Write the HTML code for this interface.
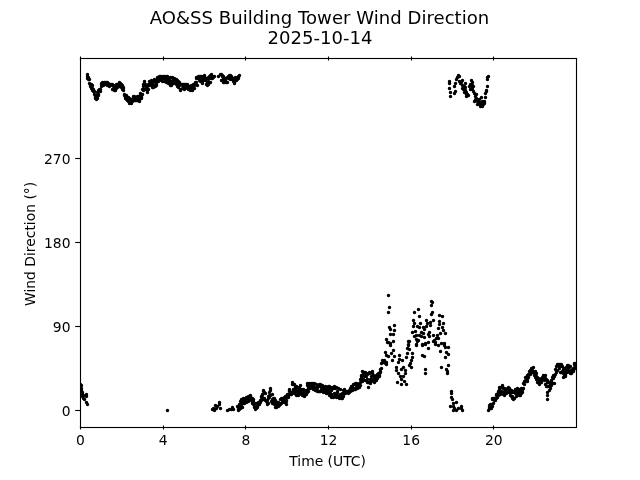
<!DOCTYPE html>
<html><head><meta charset="utf-8"><title>AO&amp;SS Building Tower Wind Direction</title>
<style>
html,body{margin:0;padding:0;background:#fff;}
svg{display:block;font-family:"DejaVu Sans","Liberation Sans",sans-serif;fill:#000;}
</style></head><body>
<svg width="640" height="480" viewBox="0 0 640 480">
<rect width="640" height="480" fill="#fff"/>
<g font-size="18.06px" text-anchor="middle">
<text x="319.5" y="24" letter-spacing="0.03">AO&amp;SS Building Tower Wind Direction</text>
<text x="320" y="44">2025-10-14</text>
</g>
<g font-size="13.89px">
<text x="80.50" y="445" text-anchor="middle">0</text><text x="163.17" y="445" text-anchor="middle">4</text><text x="245.83" y="445" text-anchor="middle">8</text><text x="328.50" y="445" text-anchor="middle">12</text><text x="411.17" y="445" text-anchor="middle">16</text><text x="493.83" y="445" text-anchor="middle">20</text>
<text x="70.5" y="415.70" text-anchor="end">0</text><text x="70.5" y="331.70" text-anchor="end">90</text><text x="70.5" y="247.70" text-anchor="end">180</text><text x="70.5" y="163.70" text-anchor="end">270</text>
<text x="327.6" y="466" text-anchor="middle">Time (UTC)</text>
<text transform="translate(35,243.9) rotate(-90)" text-anchor="middle">Wind Direction (°)</text>
</g>
<clipPath id="ax"><rect x="80" y="57.6" width="496" height="369.6"/></clipPath>
<path clip-path="url(#ax)" d="M80.5 384.5h0M81.5 385.5h0M81.5 388.5h0M81.5 390.5h0M82.5 392.5h0M82.5 394.5h0M82.5 396.5h0M83.5 398.5h0M84.5 399.5h0M85.5 395.5h0M86.5 394.5h0M86.5 396.5h0M86.5 402.5h0M87.5 74.5h0M87.5 76.5h0M87.5 78.5h0M87.5 404.5h0M88.5 77.5h0M88.5 79.5h0M89.5 79.5h0M89.5 83.5h0M90.5 84.5h0M90.5 85.5h0M90.5 86.5h0M91.5 84.5h0M91.5 88.5h0M92.5 85.5h0M92.5 88.5h0M92.5 90.5h0M93.5 89.5h0M93.5 90.5h0M93.5 91.5h0M94.5 91.5h0M94.5 94.5h0M95.5 96.5h0M95.5 97.5h0M95.5 98.5h0M96.5 95.5h0M96.5 97.5h0M96.5 99.5h0M97.5 92.5h0M97.5 96.5h0M97.5 98.5h0M98.5 90.5h0M98.5 94.5h0M98.5 95.5h0M99.5 89.5h0M99.5 90.5h0M100.5 89.5h0M100.5 91.5h0M101.5 83.5h0M101.5 84.5h0M101.5 86.5h0M102.5 82.5h0M102.5 84.5h0M103.5 83.5h0M103.5 85.5h0M104.5 82.5h0M104.5 84.5h0M105.5 82.5h0M105.5 83.5h0M105.5 84.5h0M106.5 82.5h0M106.5 83.5h0M106.5 84.5h0M107.5 82.5h0M107.5 84.5h0M107.5 85.5h0M108.5 83.5h0M108.5 85.5h0M109.5 84.5h0M109.5 86.5h0M110.5 84.5h0M110.5 85.5h0M111.5 84.5h0M112.5 84.5h0M112.5 85.5h0M112.5 89.5h0M113.5 85.5h0M113.5 86.5h0M113.5 89.5h0M114.5 86.5h0M114.5 89.5h0M114.5 90.5h0M115.5 86.5h0M115.5 89.5h0M115.5 90.5h0M116.5 84.5h0M116.5 86.5h0M116.5 88.5h0M117.5 84.5h0M117.5 87.5h0M118.5 84.5h0M118.5 85.5h0M118.5 86.5h0M119.5 82.5h0M119.5 86.5h0M120.5 83.5h0M121.5 84.5h0M121.5 86.5h0M121.5 87.5h0M122.5 85.5h0M122.5 86.5h0M122.5 89.5h0M123.5 87.5h0M123.5 88.5h0M123.5 90.5h0M124.5 94.5h0M124.5 95.5h0M125.5 95.5h0M125.5 97.5h0M125.5 98.5h0M126.5 95.5h0M126.5 99.5h0M127.5 97.5h0M127.5 100.5h0M128.5 97.5h0M128.5 101.5h0M129.5 98.5h0M129.5 99.5h0M129.5 103.5h0M130.5 102.5h0M131.5 99.5h0M131.5 102.5h0M131.5 103.5h0M132.5 99.5h0M132.5 100.5h0M132.5 101.5h0M133.5 96.5h0M133.5 97.5h0M134.5 96.5h0M134.5 97.5h0M134.5 100.5h0M135.5 98.5h0M135.5 99.5h0M135.5 100.5h0M136.5 97.5h0M136.5 98.5h0M136.5 100.5h0M137.5 96.5h0M137.5 99.5h0M137.5 100.5h0M138.5 96.5h0M138.5 97.5h0M138.5 98.5h0M139.5 101.5h0M140.5 93.5h0M140.5 95.5h0M140.5 98.5h0M141.5 96.5h0M141.5 97.5h0M141.5 98.5h0M142.5 89.5h0M142.5 94.5h0M143.5 84.5h0M143.5 86.5h0M143.5 90.5h0M144.5 81.5h0M144.5 83.5h0M144.5 89.5h0M145.5 84.5h0M145.5 85.5h0M145.5 89.5h0M146.5 85.5h0M146.5 88.5h0M146.5 89.5h0M147.5 86.5h0M147.5 92.5h0M148.5 84.5h0M148.5 85.5h0M148.5 89.5h0M149.5 81.5h0M149.5 85.5h0M150.5 81.5h0M150.5 83.5h0M151.5 80.5h0M151.5 81.5h0M151.5 83.5h0M152.5 83.5h0M152.5 86.5h0M152.5 87.5h0M153.5 82.5h0M153.5 85.5h0M153.5 87.5h0M154.5 79.5h0M154.5 80.5h0M155.5 81.5h0M155.5 85.5h0M155.5 86.5h0M156.5 82.5h0M156.5 84.5h0M156.5 85.5h0M157.5 77.5h0M157.5 79.5h0M158.5 78.5h0M158.5 79.5h0M158.5 81.5h0M159.5 76.5h0M160.5 76.5h0M160.5 77.5h0M161.5 76.5h0M161.5 77.5h0M161.5 80.5h0M162.5 77.5h0M162.5 78.5h0M162.5 81.5h0M163.5 76.5h0M163.5 77.5h0M164.5 76.5h0M164.5 78.5h0M164.5 81.5h0M165.5 79.5h0M165.5 81.5h0M166.5 76.5h0M166.5 82.5h0M167.5 76.5h0M167.5 80.5h0M167.5 410.5h0M168.5 78.5h0M168.5 82.5h0M168.5 83.5h0M169.5 78.5h0M169.5 80.5h0M169.5 83.5h0M170.5 77.5h0M170.5 85.5h0M171.5 82.5h0M171.5 85.5h0M172.5 77.5h0M172.5 80.5h0M172.5 83.5h0M173.5 78.5h0M173.5 79.5h0M173.5 83.5h0M174.5 78.5h0M174.5 81.5h0M175.5 83.5h0M176.5 79.5h0M176.5 80.5h0M176.5 84.5h0M177.5 80.5h0M177.5 83.5h0M177.5 86.5h0M178.5 81.5h0M178.5 84.5h0M178.5 87.5h0M179.5 82.5h0M179.5 85.5h0M180.5 89.5h0M180.5 90.5h0M181.5 84.5h0M182.5 84.5h0M182.5 85.5h0M182.5 88.5h0M183.5 84.5h0M183.5 87.5h0M184.5 84.5h0M184.5 89.5h0M185.5 84.5h0M185.5 88.5h0M186.5 84.5h0M186.5 85.5h0M186.5 87.5h0M187.5 84.5h0M188.5 86.5h0M188.5 88.5h0M188.5 89.5h0M189.5 86.5h0M189.5 89.5h0M190.5 86.5h0M190.5 89.5h0M190.5 90.5h0M191.5 85.5h0M191.5 86.5h0M192.5 85.5h0M192.5 90.5h0M193.5 84.5h0M193.5 87.5h0M193.5 88.5h0M194.5 85.5h0M194.5 88.5h0M195.5 82.5h0M195.5 83.5h0M195.5 84.5h0M196.5 77.5h0M196.5 78.5h0M196.5 82.5h0M197.5 77.5h0M197.5 85.5h0M198.5 76.5h0M198.5 78.5h0M199.5 76.5h0M199.5 80.5h0M200.5 76.5h0M200.5 77.5h0M200.5 81.5h0M201.5 76.5h0M201.5 77.5h0M201.5 81.5h0M202.5 77.5h0M202.5 79.5h0M202.5 83.5h0M203.5 76.5h0M203.5 80.5h0M204.5 75.5h0M204.5 76.5h0M205.5 79.5h0M205.5 80.5h0M206.5 78.5h0M206.5 84.5h0M207.5 82.5h0M207.5 84.5h0M207.5 85.5h0M208.5 77.5h0M208.5 79.5h0M208.5 84.5h0M209.5 76.5h0M209.5 78.5h0M209.5 82.5h0M210.5 75.5h0M210.5 77.5h0M210.5 82.5h0M211.5 74.5h0M211.5 76.5h0M211.5 78.5h0M212.5 76.5h0M212.5 77.5h0M212.5 78.5h0M212.5 409.5h0M213.5 77.5h0M213.5 408.5h0M214.5 76.5h0M214.5 410.5h0M215.5 405.5h0M216.5 408.5h0M217.5 406.5h0M218.5 76.5h0M219.5 402.5h0M219.5 404.5h0M220.5 74.5h0M220.5 408.5h0M221.5 74.5h0M221.5 80.5h0M222.5 75.5h0M222.5 76.5h0M222.5 80.5h0M223.5 76.5h0M223.5 78.5h0M223.5 82.5h0M224.5 78.5h0M224.5 82.5h0M225.5 78.5h0M225.5 80.5h0M226.5 82.5h0M227.5 77.5h0M227.5 82.5h0M227.5 410.5h0M228.5 76.5h0M228.5 78.5h0M229.5 75.5h0M229.5 77.5h0M229.5 409.5h0M230.5 75.5h0M230.5 76.5h0M230.5 79.5h0M231.5 76.5h0M231.5 78.5h0M231.5 409.5h0M232.5 78.5h0M232.5 79.5h0M232.5 407.5h0M233.5 78.5h0M233.5 81.5h0M233.5 409.5h0M234.5 78.5h0M234.5 82.5h0M234.5 83.5h0M235.5 77.5h0M235.5 78.5h0M235.5 80.5h0M236.5 80.5h0M237.5 78.5h0M237.5 79.5h0M237.5 406.5h0M238.5 76.5h0M238.5 77.5h0M238.5 78.5h0M238.5 406.5h0M238.5 408.5h0M238.5 409.5h0M238.5 410.5h0M239.5 75.5h0M239.5 404.5h0M239.5 405.5h0M239.5 407.5h0M239.5 409.5h0M240.5 401.5h0M240.5 404.5h0M240.5 407.5h0M240.5 408.5h0M241.5 399.5h0M241.5 401.5h0M241.5 406.5h0M242.5 400.5h0M242.5 403.5h0M242.5 407.5h0M243.5 398.5h0M243.5 402.5h0M243.5 403.5h0M244.5 399.5h0M244.5 401.5h0M244.5 403.5h0M245.5 401.5h0M246.5 397.5h0M246.5 398.5h0M246.5 402.5h0M247.5 397.5h0M247.5 398.5h0M248.5 396.5h0M248.5 398.5h0M248.5 401.5h0M249.5 398.5h0M249.5 400.5h0M250.5 395.5h0M250.5 396.5h0M250.5 398.5h0M251.5 398.5h0M251.5 399.5h0M252.5 398.5h0M252.5 402.5h0M252.5 403.5h0M253.5 399.5h0M253.5 401.5h0M253.5 404.5h0M254.5 403.5h0M254.5 406.5h0M254.5 407.5h0M255.5 408.5h0M255.5 409.5h0M256.5 403.5h0M256.5 406.5h0M256.5 408.5h0M257.5 403.5h0M257.5 406.5h0M257.5 407.5h0M258.5 402.5h0M258.5 403.5h0M258.5 404.5h0M259.5 403.5h0M259.5 404.5h0M260.5 400.5h0M260.5 401.5h0M260.5 402.5h0M261.5 396.5h0M261.5 397.5h0M261.5 400.5h0M262.5 394.5h0M262.5 395.5h0M262.5 398.5h0M263.5 390.5h0M263.5 391.5h0M263.5 399.5h0M264.5 392.5h0M264.5 398.5h0M265.5 393.5h0M265.5 400.5h0M266.5 401.5h0M267.5 400.5h0M267.5 403.5h0M267.5 404.5h0M268.5 396.5h0M268.5 398.5h0M268.5 403.5h0M269.5 392.5h0M269.5 395.5h0M269.5 397.5h0M270.5 388.5h0M270.5 390.5h0M270.5 395.5h0M271.5 401.5h0M272.5 394.5h0M272.5 399.5h0M272.5 403.5h0M273.5 398.5h0M273.5 402.5h0M274.5 398.5h0M274.5 400.5h0M274.5 404.5h0M275.5 400.5h0M275.5 402.5h0M275.5 407.5h0M276.5 406.5h0M276.5 407.5h0M277.5 402.5h0M277.5 404.5h0M277.5 405.5h0M278.5 402.5h0M278.5 406.5h0M279.5 403.5h0M279.5 405.5h0M280.5 399.5h0M280.5 404.5h0M281.5 398.5h0M281.5 403.5h0M282.5 398.5h0M282.5 400.5h0M282.5 402.5h0M283.5 399.5h0M283.5 401.5h0M284.5 397.5h0M284.5 400.5h0M284.5 402.5h0M285.5 396.5h0M285.5 397.5h0M285.5 402.5h0M286.5 397.5h0M286.5 400.5h0M286.5 401.5h0M286.5 404.5h0M287.5 394.5h0M288.5 394.5h0M288.5 395.5h0M288.5 397.5h0M289.5 389.5h0M289.5 390.5h0M289.5 391.5h0M290.5 392.5h0M290.5 393.5h0M290.5 394.5h0M291.5 392.5h0M291.5 394.5h0M292.5 382.5h0M292.5 384.5h0M293.5 384.5h0M293.5 389.5h0M293.5 390.5h0M294.5 384.5h0M294.5 393.5h0M295.5 387.5h0M295.5 390.5h0M295.5 392.5h0M296.5 386.5h0M296.5 387.5h0M296.5 395.5h0M297.5 387.5h0M297.5 392.5h0M298.5 390.5h0M298.5 392.5h0M298.5 395.5h0M299.5 387.5h0M299.5 393.5h0M300.5 385.5h0M300.5 390.5h0M300.5 392.5h0M301.5 389.5h0M301.5 392.5h0M301.5 394.5h0M302.5 391.5h0M302.5 395.5h0M303.5 389.5h0M303.5 391.5h0M303.5 392.5h0M304.5 390.5h0M304.5 395.5h0M304.5 396.5h0M305.5 391.5h0M305.5 392.5h0M305.5 393.5h0M306.5 390.5h0M306.5 391.5h0M306.5 394.5h0M307.5 383.5h0M307.5 385.5h0M307.5 392.5h0M308.5 387.5h0M308.5 388.5h0M308.5 391.5h0M309.5 383.5h0M309.5 385.5h0M309.5 386.5h0M310.5 387.5h0M310.5 388.5h0M311.5 383.5h0M311.5 384.5h0M311.5 385.5h0M312.5 383.5h0M312.5 386.5h0M313.5 386.5h0M313.5 388.5h0M313.5 389.5h0M314.5 383.5h0M314.5 387.5h0M315.5 388.5h0M315.5 390.5h0M316.5 384.5h0M316.5 388.5h0M316.5 390.5h0M317.5 386.5h0M317.5 388.5h0M317.5 391.5h0M318.5 385.5h0M318.5 386.5h0M318.5 391.5h0M319.5 384.5h0M319.5 385.5h0M319.5 391.5h0M320.5 384.5h0M320.5 386.5h0M320.5 391.5h0M321.5 385.5h0M321.5 389.5h0M322.5 385.5h0M322.5 386.5h0M322.5 391.5h0M323.5 388.5h0M323.5 392.5h0M324.5 387.5h0M324.5 390.5h0M324.5 391.5h0M325.5 386.5h0M325.5 390.5h0M325.5 391.5h0M326.5 387.5h0M326.5 388.5h0M326.5 393.5h0M327.5 389.5h0M327.5 390.5h0M327.5 392.5h0M328.5 386.5h0M328.5 393.5h0M329.5 386.5h0M329.5 388.5h0M329.5 395.5h0M330.5 387.5h0M330.5 391.5h0M330.5 393.5h0M331.5 390.5h0M331.5 394.5h0M331.5 397.5h0M332.5 387.5h0M332.5 388.5h0M332.5 396.5h0M333.5 388.5h0M333.5 397.5h0M334.5 386.5h0M334.5 393.5h0M334.5 396.5h0M335.5 388.5h0M335.5 394.5h0M335.5 396.5h0M336.5 387.5h0M336.5 395.5h0M336.5 397.5h0M337.5 391.5h0M337.5 392.5h0M337.5 395.5h0M338.5 388.5h0M338.5 397.5h0M339.5 397.5h0M339.5 398.5h0M340.5 389.5h0M340.5 394.5h0M340.5 396.5h0M341.5 397.5h0M341.5 398.5h0M342.5 393.5h0M342.5 397.5h0M342.5 398.5h0M343.5 390.5h0M343.5 396.5h0M344.5 389.5h0M344.5 392.5h0M344.5 393.5h0M345.5 391.5h0M345.5 392.5h0M345.5 393.5h0M346.5 391.5h0M346.5 392.5h0M347.5 391.5h0M347.5 392.5h0M348.5 392.5h0M348.5 393.5h0M349.5 390.5h0M349.5 392.5h0M350.5 388.5h0M350.5 391.5h0M351.5 386.5h0M351.5 387.5h0M352.5 386.5h0M352.5 387.5h0M352.5 390.5h0M353.5 384.5h0M353.5 388.5h0M353.5 389.5h0M354.5 388.5h0M354.5 389.5h0M355.5 383.5h0M355.5 384.5h0M355.5 389.5h0M356.5 383.5h0M356.5 384.5h0M356.5 387.5h0M357.5 385.5h0M357.5 387.5h0M357.5 388.5h0M358.5 384.5h0M358.5 385.5h0M359.5 383.5h0M359.5 386.5h0M359.5 387.5h0M360.5 379.5h0M360.5 382.5h0M360.5 385.5h0M361.5 375.5h0M361.5 376.5h0M361.5 378.5h0M362.5 371.5h0M362.5 379.5h0M362.5 381.5h0M363.5 373.5h0M363.5 379.5h0M364.5 372.5h0M364.5 376.5h0M365.5 372.5h0M365.5 380.5h0M366.5 374.5h0M366.5 375.5h0M366.5 376.5h0M367.5 374.5h0M367.5 379.5h0M367.5 382.5h0M368.5 373.5h0M368.5 382.5h0M368.5 387.5h0M369.5 372.5h0M369.5 373.5h0M369.5 382.5h0M370.5 379.5h0M370.5 381.5h0M370.5 383.5h0M371.5 376.5h0M371.5 379.5h0M372.5 371.5h0M372.5 372.5h0M372.5 373.5h0M373.5 375.5h0M373.5 381.5h0M374.5 377.5h0M374.5 378.5h0M374.5 382.5h0M375.5 377.5h0M375.5 380.5h0M376.5 375.5h0M376.5 379.5h0M376.5 380.5h0M377.5 374.5h0M377.5 376.5h0M377.5 377.5h0M377.5 378.5h0M378.5 373.5h0M378.5 374.5h0M378.5 375.5h0M379.5 374.5h0M379.5 375.5h0M379.5 376.5h0M380.5 369.5h0M380.5 371.5h0M380.5 372.5h0M381.5 363.5h0M381.5 368.5h0M382.5 360.5h0M383.5 361.5h0M383.5 362.5h0M384.5 360.5h0M385.5 352.5h0M385.5 363.5h0M386.5 339.5h0M386.5 355.5h0M386.5 362.5h0M386.5 364.5h0M387.5 342.5h0M388.5 295.5h0M388.5 312.5h0M388.5 342.5h0M388.5 356.5h0M389.5 307.5h0M389.5 327.5h0M390.5 329.5h0M390.5 334.5h0M390.5 343.5h0M390.5 345.5h0M391.5 353.5h0M392.5 360.5h0M393.5 334.5h0M393.5 341.5h0M393.5 350.5h0M394.5 325.5h0M394.5 330.5h0M394.5 356.5h0M396.5 367.5h0M396.5 370.5h0M397.5 382.5h0M398.5 362.5h0M398.5 373.5h0M399.5 355.5h0M399.5 359.5h0M400.5 376.5h0M401.5 369.5h0M401.5 379.5h0M401.5 384.5h0M402.5 360.5h0M403.5 367.5h0M403.5 376.5h0M404.5 381.5h0M405.5 370.5h0M405.5 373.5h0M406.5 357.5h0M406.5 384.5h0M407.5 348.5h0M407.5 353.5h0M408.5 341.5h0M408.5 344.5h0M408.5 345.5h0M409.5 341.5h0M409.5 349.5h0M409.5 365.5h0M410.5 363.5h0M411.5 360.5h0M411.5 367.5h0M412.5 332.5h0M412.5 353.5h0M412.5 357.5h0M413.5 320.5h0M413.5 326.5h0M414.5 312.5h0M414.5 323.5h0M414.5 336.5h0M415.5 331.5h0M416.5 335.5h0M416.5 339.5h0M416.5 344.5h0M416.5 345.5h0M417.5 326.5h0M417.5 341.5h0M418.5 309.5h0M418.5 340.5h0M419.5 316.5h0M419.5 327.5h0M419.5 335.5h0M420.5 323.5h0M421.5 332.5h0M421.5 336.5h0M422.5 344.5h0M422.5 345.5h0M422.5 355.5h0M423.5 327.5h0M423.5 333.5h0M424.5 329.5h0M424.5 337.5h0M424.5 356.5h0M425.5 343.5h0M425.5 344.5h0M425.5 369.5h0M425.5 373.5h0M426.5 320.5h0M426.5 326.5h0M427.5 323.5h0M428.5 334.5h0M428.5 342.5h0M428.5 348.5h0M429.5 332.5h0M429.5 336.5h0M430.5 322.5h0M430.5 325.5h0M431.5 301.5h0M431.5 305.5h0M431.5 314.5h0M432.5 302.5h0M432.5 312.5h0M433.5 320.5h0M433.5 335.5h0M433.5 341.5h0M434.5 340.5h0M435.5 342.5h0M435.5 344.5h0M436.5 338.5h0M437.5 335.5h0M438.5 328.5h0M438.5 338.5h0M438.5 345.5h0M439.5 315.5h0M439.5 321.5h0M439.5 324.5h0M440.5 333.5h0M440.5 351.5h0M441.5 343.5h0M441.5 367.5h0M442.5 316.5h0M442.5 327.5h0M443.5 323.5h0M443.5 330.5h0M444.5 343.5h0M444.5 345.5h0M445.5 333.5h0M445.5 347.5h0M445.5 357.5h0M446.5 352.5h0M446.5 369.5h0M447.5 371.5h0M447.5 373.5h0M448.5 347.5h0M448.5 354.5h0M448.5 365.5h0M449.5 81.5h0M449.5 83.5h0M449.5 88.5h0M450.5 92.5h0M450.5 96.5h0M450.5 406.5h0M451.5 391.5h0M451.5 393.5h0M451.5 397.5h0M452.5 399.5h0M453.5 403.5h0M453.5 406.5h0M453.5 410.5h0M454.5 86.5h0M454.5 93.5h0M454.5 408.5h0M455.5 83.5h0M455.5 91.5h0M456.5 79.5h0M456.5 402.5h0M456.5 410.5h0M457.5 77.5h0M458.5 75.5h0M458.5 408.5h0M459.5 76.5h0M459.5 81.5h0M460.5 83.5h0M461.5 82.5h0M461.5 406.5h0M461.5 408.5h0M462.5 80.5h0M462.5 85.5h0M462.5 88.5h0M462.5 410.5h0M463.5 87.5h0M463.5 89.5h0M464.5 86.5h0M464.5 92.5h0M465.5 83.5h0M465.5 87.5h0M465.5 90.5h0M466.5 92.5h0M466.5 94.5h0M466.5 96.5h0M467.5 94.5h0M468.5 95.5h0M469.5 86.5h0M470.5 84.5h0M470.5 89.5h0M471.5 80.5h0M471.5 85.5h0M472.5 82.5h0M472.5 85.5h0M472.5 87.5h0M472.5 89.5h0M473.5 86.5h0M473.5 91.5h0M474.5 93.5h0M474.5 101.5h0M475.5 96.5h0M475.5 99.5h0M476.5 94.5h0M476.5 98.5h0M477.5 101.5h0M477.5 104.5h0M479.5 99.5h0M479.5 102.5h0M479.5 104.5h0M480.5 106.5h0M481.5 97.5h0M481.5 103.5h0M482.5 101.5h0M482.5 106.5h0M483.5 104.5h0M484.5 101.5h0M484.5 103.5h0M485.5 93.5h0M485.5 97.5h0M486.5 90.5h0M486.5 91.5h0M487.5 77.5h0M487.5 79.5h0M487.5 86.5h0M488.5 76.5h0M488.5 410.5h0M489.5 405.5h0M489.5 407.5h0M489.5 408.5h0M490.5 404.5h0M490.5 406.5h0M490.5 408.5h0M491.5 404.5h0M491.5 407.5h0M491.5 408.5h0M492.5 398.5h0M492.5 399.5h0M492.5 406.5h0M493.5 398.5h0M493.5 399.5h0M493.5 403.5h0M494.5 398.5h0M494.5 400.5h0M495.5 399.5h0M495.5 400.5h0M496.5 394.5h0M496.5 395.5h0M496.5 398.5h0M497.5 394.5h0M497.5 395.5h0M497.5 397.5h0M498.5 391.5h0M498.5 392.5h0M498.5 395.5h0M499.5 387.5h0M499.5 389.5h0M499.5 394.5h0M500.5 391.5h0M500.5 394.5h0M501.5 387.5h0M501.5 391.5h0M502.5 385.5h0M502.5 386.5h0M502.5 392.5h0M503.5 388.5h0M503.5 392.5h0M503.5 394.5h0M504.5 388.5h0M504.5 389.5h0M504.5 395.5h0M505.5 390.5h0M505.5 393.5h0M506.5 390.5h0M506.5 392.5h0M506.5 393.5h0M507.5 388.5h0M507.5 390.5h0M507.5 392.5h0M508.5 387.5h0M508.5 388.5h0M508.5 390.5h0M509.5 388.5h0M509.5 390.5h0M509.5 392.5h0M510.5 390.5h0M510.5 392.5h0M510.5 395.5h0M511.5 390.5h0M511.5 391.5h0M511.5 396.5h0M512.5 392.5h0M512.5 396.5h0M512.5 398.5h0M513.5 391.5h0M513.5 398.5h0M513.5 399.5h0M514.5 392.5h0M514.5 398.5h0M515.5 389.5h0M515.5 393.5h0M516.5 392.5h0M516.5 394.5h0M516.5 396.5h0M517.5 388.5h0M517.5 391.5h0M517.5 392.5h0M518.5 392.5h0M518.5 394.5h0M519.5 389.5h0M519.5 395.5h0M520.5 391.5h0M520.5 395.5h0M521.5 388.5h0M521.5 392.5h0M521.5 393.5h0M522.5 389.5h0M522.5 390.5h0M522.5 392.5h0M523.5 383.5h0M523.5 388.5h0M524.5 381.5h0M524.5 384.5h0M525.5 377.5h0M525.5 380.5h0M526.5 377.5h0M526.5 378.5h0M526.5 381.5h0M527.5 375.5h0M527.5 379.5h0M527.5 381.5h0M528.5 374.5h0M528.5 377.5h0M529.5 371.5h0M529.5 374.5h0M530.5 370.5h0M530.5 371.5h0M530.5 374.5h0M531.5 368.5h0M531.5 369.5h0M532.5 370.5h0M532.5 371.5h0M532.5 372.5h0M533.5 367.5h0M533.5 372.5h0M534.5 373.5h0M534.5 375.5h0M535.5 371.5h0M535.5 377.5h0M536.5 373.5h0M536.5 376.5h0M536.5 379.5h0M537.5 377.5h0M537.5 380.5h0M537.5 382.5h0M538.5 378.5h0M538.5 382.5h0M539.5 379.5h0M539.5 383.5h0M539.5 384.5h0M540.5 379.5h0M540.5 382.5h0M541.5 378.5h0M541.5 380.5h0M541.5 382.5h0M542.5 377.5h0M542.5 379.5h0M543.5 375.5h0M543.5 376.5h0M543.5 377.5h0M544.5 377.5h0M544.5 379.5h0M544.5 380.5h0M545.5 375.5h0M545.5 378.5h0M545.5 384.5h0M546.5 379.5h0M546.5 386.5h0M547.5 380.5h0M547.5 382.5h0M547.5 386.5h0M547.5 392.5h0M547.5 395.5h0M547.5 399.5h0M548.5 382.5h0M549.5 382.5h0M549.5 386.5h0M549.5 390.5h0M550.5 384.5h0M550.5 385.5h0M550.5 386.5h0M550.5 388.5h0M551.5 380.5h0M551.5 381.5h0M551.5 385.5h0M552.5 377.5h0M552.5 383.5h0M553.5 375.5h0M553.5 376.5h0M553.5 378.5h0M554.5 375.5h0M554.5 376.5h0M554.5 383.5h0M555.5 369.5h0M555.5 374.5h0M556.5 366.5h0M556.5 371.5h0M556.5 372.5h0M557.5 364.5h0M557.5 370.5h0M558.5 364.5h0M558.5 365.5h0M559.5 364.5h0M559.5 368.5h0M560.5 364.5h0M560.5 366.5h0M560.5 372.5h0M561.5 364.5h0M561.5 372.5h0M562.5 366.5h0M562.5 371.5h0M563.5 369.5h0M563.5 373.5h0M563.5 377.5h0M564.5 368.5h0M564.5 373.5h0M564.5 375.5h0M565.5 370.5h0M565.5 375.5h0M565.5 376.5h0M566.5 367.5h0M566.5 369.5h0M566.5 372.5h0M567.5 365.5h0M567.5 366.5h0M567.5 372.5h0M568.5 365.5h0M568.5 367.5h0M568.5 370.5h0M569.5 367.5h0M569.5 371.5h0M570.5 366.5h0M570.5 373.5h0M571.5 370.5h0M571.5 372.5h0M571.5 373.5h0M572.5 369.5h0M572.5 370.5h0M572.5 371.5h0M573.5 368.5h0M573.5 369.5h0M573.5 371.5h0M574.5 363.5h0M574.5 364.5h0M574.5 367.5h0M575.5 364.5h0M575.5 368.5h0M576.5 363.5h0" fill="none" stroke="#000" stroke-width="3.5" stroke-linecap="round"/>
<g stroke="#000" stroke-width="1.11" fill="none" shape-rendering="auto">
<rect x="80.5" y="58.5" width="496" height="369"/>
<line x1="80.5" x2="80.5" y1="425.5" y2="429.5"/><line x1="80.5" x2="80.5" y1="56.5" y2="60.5"/><line x1="163.5" x2="163.5" y1="425.5" y2="429.5"/><line x1="163.5" x2="163.5" y1="56.5" y2="60.5"/><line x1="245.5" x2="245.5" y1="425.5" y2="429.5"/><line x1="245.5" x2="245.5" y1="56.5" y2="60.5"/><line x1="328.5" x2="328.5" y1="425.5" y2="429.5"/><line x1="328.5" x2="328.5" y1="56.5" y2="60.5"/><line x1="411.5" x2="411.5" y1="425.5" y2="429.5"/><line x1="411.5" x2="411.5" y1="56.5" y2="60.5"/><line x1="493.5" x2="493.5" y1="425.5" y2="429.5"/><line x1="493.5" x2="493.5" y1="56.5" y2="60.5"/><line x1="75.2" x2="80.5" y1="410.5" y2="410.5"/><line x1="75.2" x2="80.5" y1="326.5" y2="326.5"/><line x1="75.2" x2="80.5" y1="242.5" y2="242.5"/><line x1="75.2" x2="80.5" y1="158.5" y2="158.5"/>
</g>
</svg>
</body></html>
